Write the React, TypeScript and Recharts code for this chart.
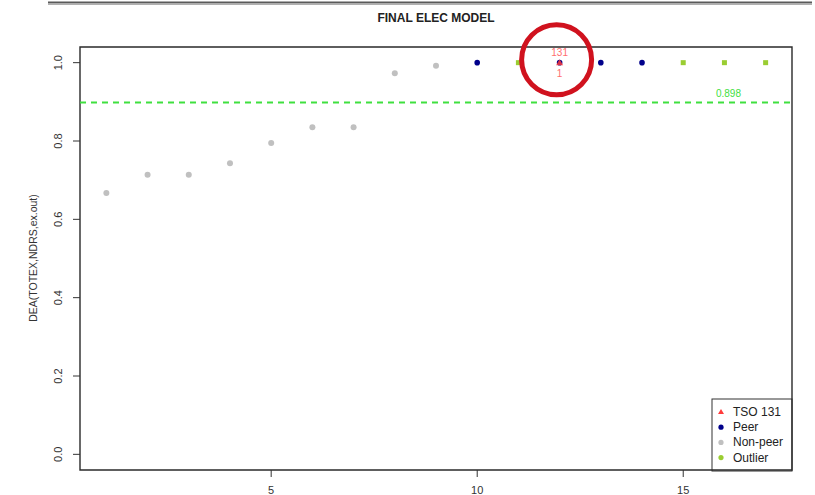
import React from 'react';
import {
  ScatterChart, Scatter, XAxis, YAxis, ReferenceLine, ReferenceArea, ReferenceDot, Customized,
} from 'recharts';

const title = 'FINAL ELEC MODEL';
const yAxisTitle = 'DEA(TOTEX,NDRS,ex.out)';

const nonPeerX = [1, 2, 3, 4, 5, 6, 7, 8, 9];
const nonPeerScores = [0.667, 0.714, 0.714, 0.743, 0.795, 0.835, 0.835, 0.973, 0.992];
const peerX = [10, 12, 13, 14];
const peerScores = [1, 1, 1, 1];
const outlierX = [11, 15, 16, 17];
const outlierScores = [1, 1, 1, 1];
const tsoX = [12];
const tsoScores = [1];
const tsoName = '131';
const tsoRank = '1';
const threshold = 0.898;

const xTicks = [5, 10, 15];
const yTicks = [0, 0.2, 0.4, 0.6, 0.8, 1.0];
const xDomain: [number, number] = [0.36, 17.64];
const yDomain: [number, number] = [-0.04, 1.04];

const legendItems = [
  { label: 'TSO 131', color: '#ff3b3b', shape: 'triangle' },
  { label: 'Peer', color: '#00008b', shape: 'circle' },
  { label: 'Non-peer', color: '#c0c0c0', shape: 'circle' },
  { label: 'Outlier', color: '#9acd32', shape: 'circle' },
];

const zip = (xs: number[], ys: number[]) => xs.map((x, i) => ({ x, y: ys[i] }));
const nonPeerData = zip(nonPeerX, nonPeerScores);
const peerData = zip(peerX, peerScores);
const outlierData = zip(outlierX, outlierScores);
const tsoData = zip(tsoX, tsoScores);

const FONT = '"Liberation Sans", Arial, Helvetica, sans-serif';

const dot = (color: string, r: number) => (p: any) => (
  <circle cx={p.cx} cy={p.cy} r={r} fill={color} />
);
const square = (color: string, s: number) => (p: any) => (
  <rect x={p.cx - s / 2} y={p.cy - s / 2} width={s} height={s} fill={color} />
);
const tsoShape = (p: any) => {
  const { cx, cy } = p;
  return (
    <g>
      <polygon points={`${cx},${cy - 3.5} ${cx - 3.5},${cy + 2.5} ${cx + 3.5},${cy + 2.5}`} fill="#ff3b3b" opacity={0.85} />
      <text x={cx} y={cy - 7} textAnchor="middle" fontSize={10} fill="#ff6f6f" fontFamily={FONT}>{tsoName}</text>
      <text x={cx} y={cy + 14} textAnchor="middle" fontSize={10} fill="#ff6f6f" fontFamily={FONT}>{tsoRank}</text>
    </g>
  );
};

const YTick = (props: any) => {
  const { y, payload } = props;
  const x = 62;
  return (
    <text x={x} y={y} transform={`rotate(-90 ${x} ${y})`} textAnchor="middle" fontSize={11} fill="#333" fontFamily={FONT}>
      {Number(payload.value).toFixed(1)}
    </text>
  );
};

const XTick = (props: any) => {
  const { x, payload } = props;
  return (
    <text x={x} y={494} textAnchor="middle" fontSize={11} fill="#333" fontFamily={FONT}>
      {payload.value}
    </text>
  );
};

const Decorations = () => (
  <g fontFamily={FONT}>
    <line x1={48} x2={812} y1={2.5} y2={2.5} stroke="#5a5a5a" strokeWidth={2} />
    <line x1={48} x2={812} y1={4.5} y2={4.5} stroke="#b0b0b0" strokeWidth={1} />
    <text x={436} y={22} textAnchor="middle" fontSize={12} fontWeight="bold" fill="#222">{title}</text>
    <text x={37} y={258} transform="rotate(-90 37 258)" textAnchor="middle" fontSize={10.5} fill="#333">{yAxisTitle}</text>
    <rect x={712} y={399} width={80} height={72} fill="#fff" stroke="#333" strokeWidth={1} />
    {legendItems.map((it, i) => {
      const cy = 412 + i * 15.2;
      return (
        <g key={it.label}>
          {it.shape === 'triangle' ? (
            <polygon points={`721,${cy - 3} 718,${cy + 2} 724,${cy + 2}`} fill={it.color} />
          ) : (
            <circle cx={721} cy={cy} r={2.6} fill={it.color} />
          )}
          <text x={733} y={cy + 4} fontSize={12} fill="#222">{it.label}</text>
        </g>
      );
    })}
  </g>
);

export default function App() {
  return (
    <div style={{ position: 'absolute', left: 0, top: 0, background: '#fff' }}>
      <ScatterChart width={815} height={495} margin={{ top: 47, right: 23, bottom: 0, left: 0 }}>
        <XAxis
          type="number" dataKey="x" domain={xDomain} ticks={xTicks} allowDataOverflow
          axisLine={false} tickSize={7} tickLine={{ stroke: '#333' }} tick={<XTick />} height={25}
        />
        <YAxis
          type="number" dataKey="y" domain={yDomain} ticks={yTicks} allowDataOverflow
          axisLine={false} tickSize={7} tickLine={{ stroke: '#333' }} tick={<YTick />} width={80}
        />
        <ReferenceArea x1={xDomain[0]} x2={xDomain[1]} y1={yDomain[0]} y2={yDomain[1]} fill="none" fillOpacity={0} stroke="#2a2a2a" strokeWidth={1.4} ifOverflow="visible" />
        <ReferenceLine
          y={threshold} stroke="#3fe03f" strokeWidth={2} strokeDasharray="6 5"
          label={(p: any) => (
            <text x={p.viewBox.x + p.viewBox.width - 51} y={p.viewBox.y - 6} textAnchor="end" fontSize={10} fill="#3fe03f" fontFamily={FONT}>
              {threshold}
            </text>
          )}
        />
        <Scatter data={nonPeerData} fill="#c0c0c0" shape={dot('#c0c0c0', 3)} isAnimationActive={false} />
        <Scatter data={peerData} fill="#00008b" shape={dot('#00008b', 2.8)} isAnimationActive={false} />
        <Scatter data={outlierData} fill="#9acd32" shape={square('#9acd32', 5)} isAnimationActive={false} />
        <Scatter data={tsoData} fill="#ff3b3b" shape={tsoShape} isAnimationActive={false} />
        <ReferenceDot
          x={tsoX[0]} y={tsoScores[0]} ifOverflow="visible"
          shape={(p: any) => <circle cx={p.cx - 3} cy={p.cy - 3} r={35} fill="none" stroke="#d0121e" strokeWidth={5} />}
        />
        <Customized component={Decorations} />
      </ScatterChart>
    </div>
  );
}
